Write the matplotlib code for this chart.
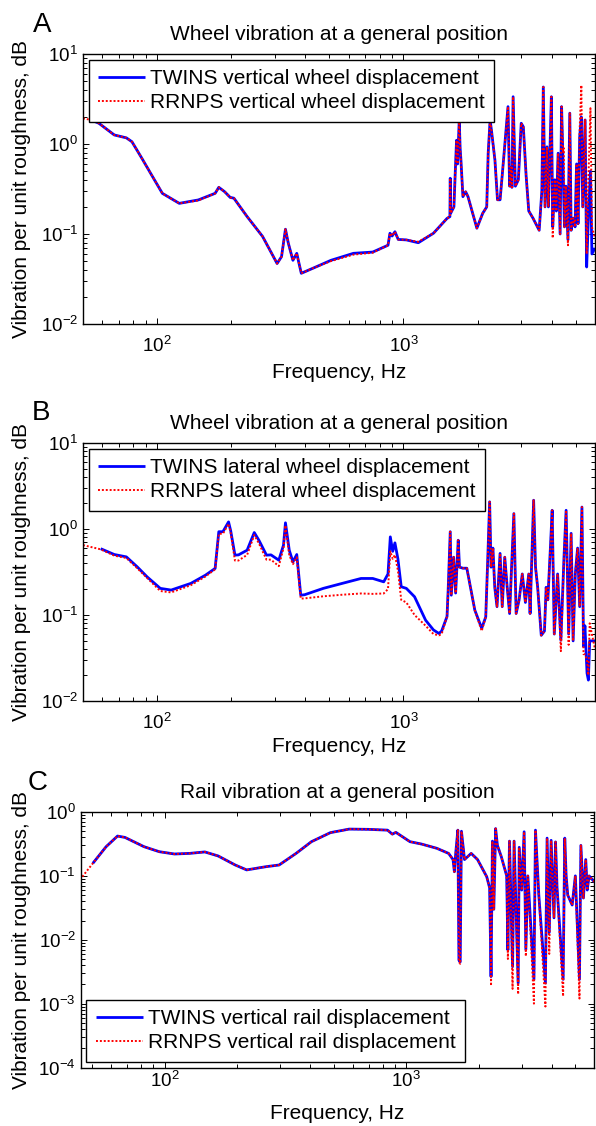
import numpy as np
import matplotlib
matplotlib.use('Agg')
import matplotlib.pyplot as plt
from matplotlib.ticker import LogLocator, NullFormatter

plt.rcParams['font.family'] = ['Liberation Sans', 'DejaVu Sans']
plt.rcParams['mathtext.fontset'] = 'custom'
plt.rcParams['mathtext.rm'] = 'Liberation Sans'
plt.rcParams['mathtext.it'] = 'Liberation Sans:italic'
plt.rcParams['mathtext.bf'] = 'Liberation Sans:bold'
plt.rcParams['mathtext.default'] = 'regular'

nan = np.nan

# --- A: vertical wheel displacement ---
a_freq = [50, 54, 58, 67, 75, 79, 86, 96, 105, 123, 147, 172, 178, 188, 198, 205,
          232, 268, 307, 320, 332, 341, 356, 369, 375, 385, 441, 508, 627, 751, 866,
          882, 900, 924, 953, 1028, 1150, 1325, 1504, 1545, 1550, 1556, 1604, 1625,
          1644, 1660, 1686, 1700, 1713, 1745, 1790, 1830, 1988, 2100, 2180, 2210,
          2250, 2280, 2354, 2411, 2470, 2530, 2660, 2700, 2740, 2760, 2790, 2850,
          2930, 3010, 3070, 3150, 3230, 3360, 3560, 3650, 3700, 3760,
          3830, 3880, 3930, 3990, 4040, 4120, 4180, 4250, 4330, 4390, 4450, 4480, 4510,
          4570, 4660, 4740, 4800, 4890, 4980, 5050, 5120, 5200, 5280, 5350, 5470, 5550,
          5640, 5750, 5830, 6000]
a_twins = [nan, 1.85, 1.70, 1.26, 1.17, 1.06, 0.72, 0.43, 0.283, 0.219, 0.239, 0.283,
           0.33, 0.295, 0.255, 0.25, 0.156, 0.094, 0.047, 0.056, 0.113, 0.079, 0.051,
           0.061, 0.05, 0.0366, 0.043, 0.051, 0.061, 0.063, 0.075, 0.102, 0.095, 0.106,
           0.087, 0.086, 0.080, 0.102, 0.149, 0.156, 0.416, 0.17, 0.20, 0.5, 1.1, 0.6,
           1.85, 0.9, 0.66, 0.26, 0.295, 0.26, 0.116, 0.17, 0.20, 0.79, 1.85, 1.4,
           0.66, 0.24, 0.24, 0.51, 2.6, 0.34, 0.55, 0.33, 3.35, 0.34, 0.4, 1.7, 1.55,
           0.45, 0.18, 0.15, 0.11, 0.3, 4.3, 0.2,
           0.93, 0.2, 0.7, 3.35, 0.12, 0.4, 0.18, 0.79, 0.10, 2.6, 0.6, 0.25, 0.12,
           0.34, 0.086, 2.2, 0.11, 0.15, 0.12, 0.6, 0.13, 1.2, 2.0, 0.2, 1.85, 0.043,
           0.15, 0.5, 0.06, 0.07]
a_rrnps = [1.93, 1.85, 1.70, 1.26, 1.17, 1.06, 0.72, 0.43, 0.283, 0.219, 0.236, 0.283,
           0.33, 0.295, 0.255, 0.25, 0.156, 0.094, 0.047, 0.056, 0.113, 0.079, 0.051,
           0.061, 0.05, 0.0366, 0.043, 0.050, 0.059, 0.062, 0.075, 0.102, 0.095, 0.106,
           0.087, 0.086, 0.082, 0.102, 0.149, 0.156, 0.416, 0.17, 0.20, 0.5, 1.1, 0.6,
           1.85, 0.9, 0.66, 0.26, 0.295, 0.26, 0.116, 0.17, 0.20, 0.79, 1.85, 1.4,
           0.66, 0.24, 0.24, 0.51, 2.6, 0.34, 0.55, 0.33, 3.35, 0.34, 0.4, 1.7, 1.55,
           0.45, 0.18, 0.15, 0.11, 0.3, 4.3, 0.2,
           0.93, 0.2, 0.7, 3.35, 0.09, 0.4, 0.18, 0.79, 0.10, 2.6, 0.8, 0.9, 0.12,
           0.34, 0.075, 2.2, 0.11, 0.15, 0.12, 0.6, 0.13, 1.5, 4.5, 0.2, 1.85, 0.06,
           0.4, 2.5, 0.12, 0.09]

# --- B: lateral wheel displacement ---
b_freq = [50, 59, 67, 75, 83, 91, 103, 114, 137, 157, 172, 178, 185, 195, 199, 207,
          214, 232, 248, 259, 278, 290, 312, 326, 332, 344, 356, 369, 383, 397, 473,
          564, 673, 751, 832, 866, 885, 905, 924, 950, 980, 1028, 1110, 1231, 1325,
          1394, 1430, 1504, 1520, 1550, 1565, 1600, 1630, 1670, 1690, 1745, 1810,
          1950, 2080, 2160, 2200, 2240, 2270, 2310, 2350, 2400, 2470, 2520, 2580,
          2640, 2700, 2810, 2870, 2950, 3040, 3130, 3230, 3270, 3380, 3440, 3510,
          3630, 3740, 3800, 3860, 3950, 4020, 4100, 4230, 4360, 4490, 4580, 4690,
          4800, 4890, 4990, 5100, 5200, 5310, 5390, 5460, 5570, 5640, 5710, 6000]
b_twins = [nan, 0.59, 0.505, 0.474, 0.363, 0.278, 0.204, 0.195, 0.233, 0.29, 0.348,
           0.93, 0.93, 1.21, 0.95, 0.497, 0.5, 0.567, 0.91, 0.74, 0.497, 0.5, 0.434,
           0.65, 1.18, 0.567, 0.415, 0.505, 0.17, 0.172, 0.204, 0.233, 0.266, 0.266,
           0.243, 0.3, 0.81, 0.55, 0.69, 0.45, 0.213, 0.204, 0.163, 0.087, 0.067,
           0.061, 0.065, 0.096, 0.195, 0.93, 0.17, 0.47, 0.18, 0.74, 0.36, 0.35, 0.35,
           0.114, 0.07, 0.095, 0.43, 2.07, 0.36, 0.6, 0.21, 0.125, 0.52, 0.125, 0.47,
           0.21, 0.104, 1.51, 0.104, 0.149, 0.30, 0.14, 0.3, 0.104, 2.16, 0.36, 0.21,
           0.058, 0.065, 0.21, 0.15, 0.57, 1.65, 0.06, 0.3, 0.051, 0.47, 1.65, 0.06,
           0.89, 0.05, 0.3, 0.6, 0.125, 1.8, 0.043, 0.075, 0.021, 0.0175, 0.05, 0.05]
b_rrnps = [0.65, 0.58, 0.49, 0.46, 0.35, 0.27, 0.19, 0.183, 0.222, 0.28, 0.34,
           0.88, 0.88, 1.15, 0.9, 0.43, 0.43, 0.5, 0.85, 0.68, 0.44, 0.44, 0.37,
           0.6, 1.1, 0.5, 0.39, 0.47, 0.155, 0.156, 0.165, 0.172, 0.178, 0.176,
           0.178, 0.2, 0.55, 0.45, 0.5, 0.33, 0.15, 0.14, 0.1, 0.075, 0.06,
           0.058, 0.06, 0.096, 0.195, 0.93, 0.17, 0.47, 0.18, 0.74, 0.36, 0.35, 0.35,
           0.114, 0.065, 0.095, 0.43, 2.07, 0.36, 0.6, 0.21, 0.125, 0.52, 0.125, 0.47,
           0.21, 0.104, 1.51, 0.104, 0.149, 0.30, 0.14, 0.3, 0.104, 2.16, 0.36, 0.21,
           0.058, 0.065, 0.21, 0.15, 0.57, 1.65, 0.06, 0.3, 0.038, 0.47, 1.65, 0.045,
           0.89, 0.05, 0.3, 0.6, 0.125, 1.8, 0.035, 0.035, 0.03, 0.02, 0.08, 0.04]

# --- C: vertical rail displacement ---
c_freq = [45.7, 50.5, 57.3, 63.9, 68.6, 82.3, 95.1, 109.9, 127, 146.8, 166.6, 196,
          218.6, 262, 297.7, 350, 405, 485, 580, 697, 836, 875, 905, 1035, 1155, 1337,
          1495, 1560, 1580, 1600, 1633, 1650, 1670, 1690, 1740, 1854, 1970, 2150,
          2210, 2240, 2270, 2300, 2340, 2380, 2470, 2600, 2630, 2670, 2750, 2790,
          2900, 2930, 3000, 3070, 3120, 3180, 3370, 3420, 3530, 3760, 3820, 3900,
          3970, 4080, 4140, 4200, 4450, 4520, 4580, 4650, 4850, 5000, 5200, 5270,
          5400, 5520, 5600, 5700, 6000]
c_twins = [nan, 0.157, 0.286, 0.42, 0.40, 0.286, 0.239, 0.22, 0.225, 0.237, 0.205,
           0.148, 0.124, 0.139, 0.148, 0.225, 0.343, 0.475, 0.54, 0.535, 0.52, 0.45,
           0.48, 0.343, 0.315, 0.27, 0.225, 0.18, 0.116, 0.225, 0.52, 0.0048, 0.0045,
           0.5, 0.18, 0.225, 0.18, 0.097, 0.065, 0.00265, 0.35, 0.03, 0.55, 0.3, 0.2,
           0.1, 0.0069, 0.35, 0.0038, 0.35, 0.0021, 0.28, 0.06, 0.49, 0.007, 0.1,
           0.0024, 0.52, 0.05, 0.0021, 0.39, 0.013, 0.36, 0.022, 0.34, 0.065, 0.0024,
           0.39, 0.1, 0.05, 0.035, 0.1, 0.0024, 0.3, 0.045, 0.18, 0.06, 0.1, 0.08]
c_rrnps = [0.097, 0.157, 0.286, 0.42, 0.40, 0.286, 0.239, 0.22, 0.225, 0.237, 0.205,
           0.148, 0.124, 0.139, 0.148, 0.225, 0.343, 0.475, 0.54, 0.535, 0.52, 0.45,
           0.48, 0.343, 0.315, 0.27, 0.225, 0.18, 0.116, 0.225, 0.52, 0.0045, 0.0042,
           0.5, 0.18, 0.225, 0.18, 0.097, 0.065, 0.0019, 0.35, 0.03, 0.55, 0.3, 0.2,
           0.1, 0.005, 0.35, 0.0017, 0.35, 0.0014, 0.28, 0.06, 0.49, 0.0055, 0.1,
           0.001, 0.52, 0.05, 0.0009, 0.39, 0.006, 0.36, 0.022, 0.34, 0.065, 0.0013,
           0.39, 0.1, 0.05, 0.035, 0.1, 0.0012, 0.3, 0.045, 0.18, 0.06, 0.1, 0.08]

W, H = 596, 1126
fig = plt.figure(figsize=(W / 100, H / 100), dpi=100)


def add_axes_px(left, top, right, bottom):
    return fig.add_axes([left / W, 1 - bottom / H, (right - left) / W, (bottom - top) / H])


def draw_panel(ax, freq, twins, rrnps, labels, title, xlim, ylim, loc, ylabel_x,
               xtick_pad, xlabel_pad):
    ax.loglog(freq, twins, color='#0000ff', lw=2.0, solid_capstyle='butt', label=labels[0])
    ax.loglog(freq, rrnps, color='#ff0000', lw=1.4, linestyle=(0, (1, 1)), label=labels[1])
    ax.set_xlim(*xlim)
    ax.set_ylim(*ylim)
    ax.set_title(title, fontsize=15, pad=10)
    ax.set_ylabel('Vibration per unit roughness, dB', fontsize=15)
    ax.yaxis.set_label_coords(ylabel_x, 0.5)
    for axis in (ax.xaxis, ax.yaxis):
        axis.set_major_locator(LogLocator(base=10, numticks=12))
        axis.set_minor_locator(LogLocator(base=10, subs=np.arange(2, 10), numticks=100))
        axis.set_minor_formatter(NullFormatter())
    ax.tick_params(which='both', direction='in', top=True, right=True,
                   labelsize=13.5, width=0.7)
    ax.tick_params(which='major', length=4.5)
    ax.tick_params(which='minor', length=3)
    ax.tick_params(axis='x', which='major', pad=xtick_pad)
    ax.set_xlabel('Frequency, Hz', fontsize=15, labelpad=xlabel_pad)
    for s in ax.spines.values():
        s.set_linewidth(1.0)
    leg = ax.legend(loc=loc, fontsize=15, frameon=True, fancybox=False, framealpha=1,
                    edgecolor='black', handlelength=2.25, handletextpad=0.25,
                    borderpad=0.45, labelspacing=0.25, borderaxespad=0.27)
    leg.get_frame().set_linewidth(1.0)


ax_a = add_axes_px(83, 54, 595, 324)
draw_panel(ax_a, a_freq, a_twins, a_rrnps,
           ['TWINS vertical wheel displacement', 'RRNPS vertical wheel displacement'],
           'Wheel vibration at a general position', (50, 6000), (1e-2, 1e1),
           'upper left', (31 - 83) / 512, 8.4, 5)

ax_b = add_axes_px(83, 443, 595, 701)
draw_panel(ax_b, b_freq, b_twins, b_rrnps,
           ['TWINS lateral wheel displacement', 'RRNPS lateral wheel displacement'],
           'Wheel vibration at a general position', (50, 6000), (1e-2, 1e1),
           'upper left', (31 - 83) / 512, 8.4, 3)

ax_c = add_axes_px(80.7, 812, 594.5, 1067.5)
draw_panel(ax_c, c_freq, c_twins, c_rrnps,
           ['TWINS vertical rail displacement', 'RRNPS vertical rail displacement'],
           'Rail vibration at a general position', (45, 6000), (1e-4, 1e0),
           'lower left', (31 - 80.7) / 513.8, 2.5, 9)

for letter, x, y in [('A', 33, 32), ('B', 32, 420), ('C', 28, 790)]:
    fig.text(x / W, 1 - y / H, letter, fontsize=20, ha='left', va='baseline')

fig.savefig('out.png', dpi=100)
